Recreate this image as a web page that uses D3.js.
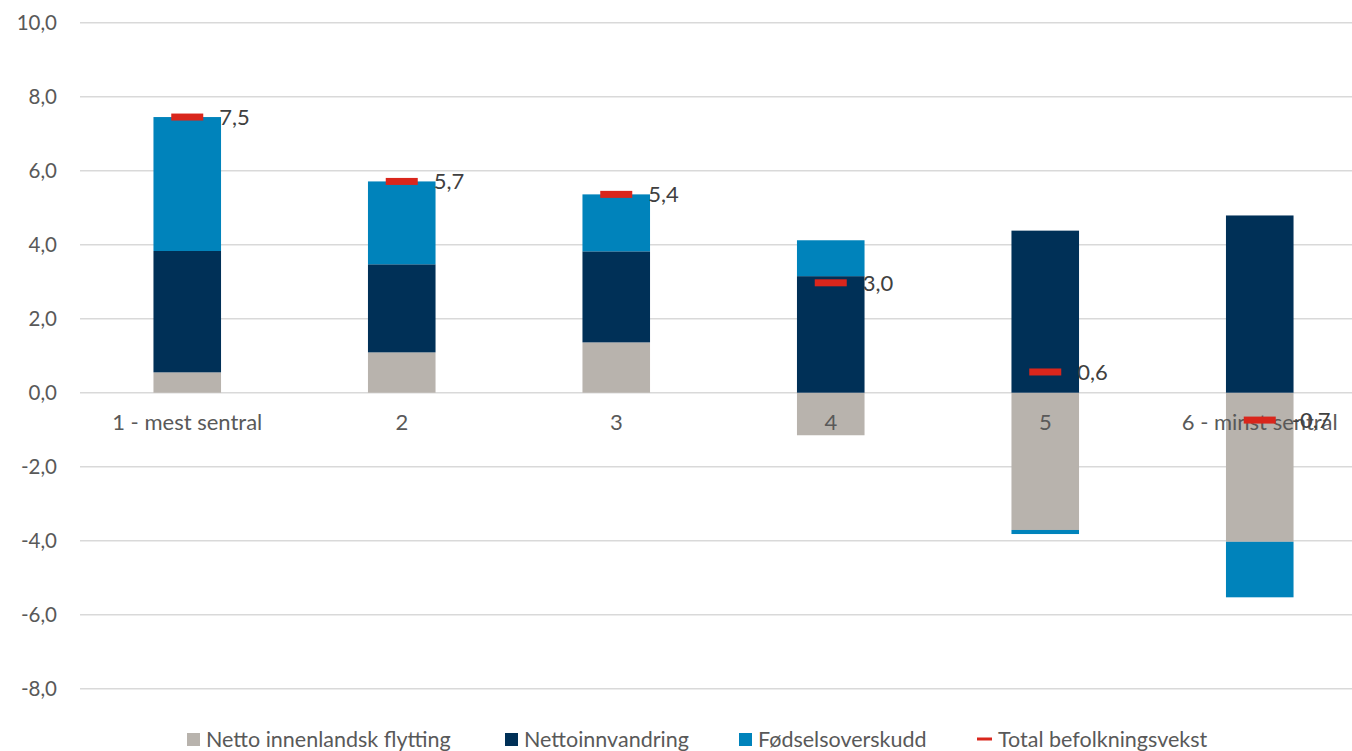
<!DOCTYPE html>
<html>
<head>
<meta charset="utf-8">
<script src="https://cdn.jsdelivr.net/npm/d3@7"></script>
<style>
  html, body { margin: 0; padding: 0; background: #fff; }
  svg { display: block; font-family: Lato, "Open Sans", sans-serif; }
</style>
</head>
<body>
<svg id="chart" width="1352" height="751"></svg>
<script>
// ---- data ----
const categories = ["1 - mest sentral", "2", "3", "4", "5", "6 - minst sentral"];
const innenlandsk = [0.55, 1.09, 1.36, -1.15, -3.71, -4.03];
const innvandring = [3.28, 2.38, 2.46, 3.15, 4.38, 4.79];
const fodsel = [3.62, 2.24, 1.54, 0.97, -0.11, -1.50];
const total = [7.45, 5.71, 5.36, 2.97, 0.56, -0.74];
const yTicks = [-8, -6, -4, -2, 0, 2, 4, 6, 8, 10];
const seriesNames = ["Netto innenlandsk flytting", "Nettoinnvandring", "Fødselsoverskudd"];
const totalName = "Total befolkningsvekst";
const colors = ["#b8b3ad", "#003057", "#0083bb"];
const totalColor = "#d9261c";

const svg = d3.select("#chart");
const W = 1352, H = 751;
const left = 80, right = 1367;

const x = d3.scaleBand().domain(categories).range([left, right]).paddingInner(0.685).paddingOuter(0.3425);
const y = d3.scaleLinear().domain([-8, 10]).range([688.7, 22.7]);
const fmt = v => d3.format(".1f")(v).replace(".", ",").replace("−", "-");

// gridlines
svg.append("g").selectAll("line").data(yTicks).join("line")
  .attr("x1", left).attr("x2", W)
  .attr("y1", d => y(d)).attr("y2", d => y(d))
  .attr("stroke", "#d9d9d9").attr("stroke-width", 1.5);

// y axis labels
const yAxis = d3.axisLeft(y).tickValues(yTicks).tickSize(0).tickPadding(0).tickFormat(fmt);
const gy = svg.append("g").attr("transform", `translate(57,0)`).call(yAxis);
gy.select(".domain").remove();
gy.selectAll("text").attr("font-size", 20.5).attr("fill", "#595959").attr("font-family", "Lato, sans-serif");

// stacked data
const rows = categories.map((c, i) => ({ cat: c, a: innenlandsk[i], b: innvandring[i], c: fodsel[i] }));
const stack = d3.stack().keys(["a", "b", "c"]).offset(d3.stackOffsetDiverging);
const stacked = stack(rows);

svg.append("g").selectAll("g").data(stacked).join("g")
  .attr("fill", (d, i) => colors[i])
  .selectAll("rect").data(d => d).join("rect")
  .attr("x", d => x(d.data.cat))
  .attr("width", x.bandwidth())
  .attr("y", d => y(Math.max(d[0], d[1])))
  .attr("height", d => Math.abs(y(d[0]) - y(d[1])));

// x axis labels (at zero line)
const xAxis = d3.axisBottom(x).tickSize(0).tickPadding(0);
const gx = svg.append("g").attr("transform", `translate(0,${y(0) + 20})`).call(xAxis);
gx.select(".domain").remove();
gx.selectAll("text").attr("font-size", 22).attr("fill", "#595959").attr("font-family", "Lato, sans-serif").attr("dy", "0.35em").attr("y", 10);

// total markers
const mg = svg.append("g");
mg.selectAll("rect").data(total).join("rect")
  .attr("x", (d, i) => x(categories[i]) + x.bandwidth() / 2 - 16)
  .attr("width", 32)
  .attr("y", d => y(d) - 3.5)
  .attr("height", 7)
  .attr("fill", totalColor);
mg.selectAll("text").data(total).join("text")
  .attr("x", (d, i) => x(categories[i]) + x.bandwidth() / 2 + 32)
  .attr("y", d => y(d))
  .attr("dy", "0.35em")
  .attr("font-size", 22)
  .attr("fill", "#404040")
  .text(d => fmt(d));

// legend
const legendItems = [
  { name: seriesNames[0], color: colors[0], x: 187, type: "box" },
  { name: seriesNames[1], color: colors[1], x: 505, type: "box" },
  { name: seriesNames[2], color: colors[2], x: 739, type: "box" },
  { name: totalName, color: totalColor, x: 977, type: "line" }
];
const lg = svg.append("g");
const li = lg.selectAll("g").data(legendItems).join("g").attr("transform", d => `translate(${d.x},739)`);
li.filter(d => d.type === "box").append("rect").attr("x", 0).attr("y", -6).attr("width", 13).attr("height", 13).attr("fill", d => d.color);
li.filter(d => d.type === "line").append("rect").attr("x", 0).attr("y", -1.5).attr("width", 15).attr("height", 3).attr("fill", d => d.color);
li.append("text").attr("x", d => d.type === "line" ? 21 : 19).attr("y", 0).attr("dy", "0.35em")
  .attr("font-size", 21.5).attr("fill", "#595959").text(d => d.name);
</script>
</body>
</html>
